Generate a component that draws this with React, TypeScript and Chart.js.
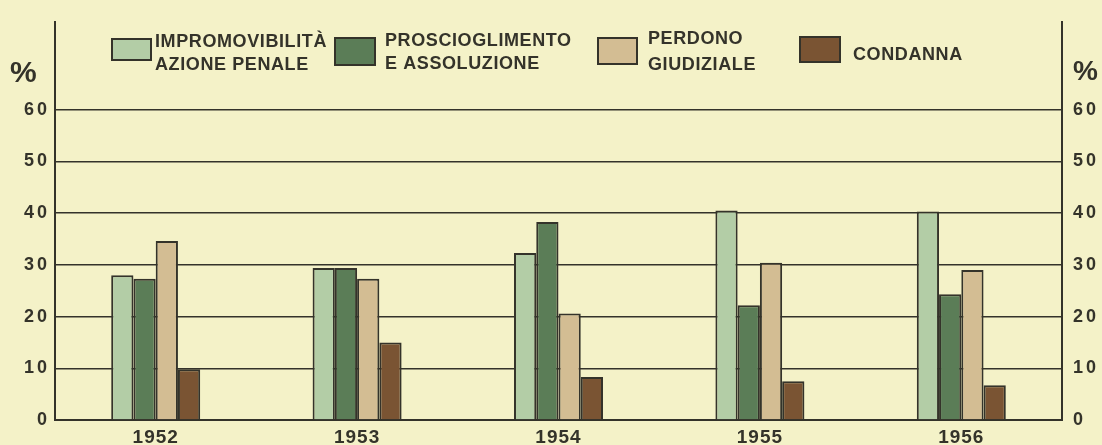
import React, { useEffect, useRef } from 'react';
import { Chart, registerables } from 'chart.js';

Chart.register(...registerables);

// ---- data ----
const years = ['1952', '1953', '1954', '1955', '1956'];
const impromovibilita = [28.0, 29.4, 32.3, 40.5, 40.3];
const proscioglimento = [27.3, 29.4, 38.3, 22.2, 24.3];
const perdono = [34.6, 27.3, 20.6, 30.4, 29.0];
const condanna = [9.8, 15.0, 8.3, 7.5, 6.7];
const yTickValues = [0, 10, 20, 30, 40, 50, 60];
const seriesLabels = [
  ['IMPROMOVIBILITÀ', 'AZIONE PENALE'],
  ['PROSCIOGLIMENTO', 'E ASSOLUZIONE'],
  ['PERDONO', 'GIUDIZIALE'],
  ['CONDANNA'],
];

const BG = '#f4f2c8';
const INK = '#34332a';
const COLORS = ['#b3cda6', '#5b7d57', '#d3bd93', '#7a5433'];
const FONT = '"Liberation Sans", Arial, sans-serif';

const legendLayout = [
  { box: [112, 39, 39, 21], textX: 155, lines: [47, 70] },
  { box: [335, 38, 40, 27], textX: 385, lines: [46, 69] },
  { box: [598, 38, 39, 26], textX: 648, lines: [44, 70] },
  { box: [800, 37, 40, 25], textX: 853, lines: [60] },
];

const decorPlugin = {
  id: 'decor',
  beforeDraw(chart: any) {
    const ctx = chart.ctx;
    ctx.save();
    ctx.fillStyle = BG;
    ctx.fillRect(0, 0, chart.width, chart.height);
    ctx.restore();
    ctx.letterSpacing = '3px';
    const xs = chart.scales.x;
    if (xs && !xs.__patched) {
      const orig = xs.drawLabels.bind(xs);
      xs.drawLabels = (area: any) => {
        ctx.letterSpacing = '1px';
        orig(area);
        ctx.letterSpacing = '3px';
      };
      xs.__patched = true;
    }
  },
  afterDraw(chart: any) {
    const ctx = chart.ctx;
    ctx.save();
    ctx.letterSpacing = '0.6px';
    ctx.textBaseline = 'alphabetic';
    ctx.textAlign = 'left';
    legendLayout.forEach((l, i) => {
      const [x, y, w, h] = l.box;
      ctx.fillStyle = COLORS[i];
      ctx.fillRect(x, y, w, h);
      ctx.strokeStyle = INK;
      ctx.lineWidth = 2;
      ctx.strokeRect(x, y, w, h);
      ctx.fillStyle = INK;
      ctx.font = `bold 18px ${FONT}`;
      seriesLabels[i].forEach((t, j) => ctx.fillText(t, l.textX, l.lines[j]));
    });
    // percent signs
    ctx.letterSpacing = '0px';
    ctx.font = `bold 30px ${FONT}`;
    ctx.fillText('%', 10, 82);
    ctx.font = `bold 28px ${FONT}`;
    ctx.fillText('%', 1073, 80);
    ctx.restore();
  },
};

export default function App() {
  const ref = useRef<HTMLCanvasElement>(null);
  useEffect(() => {
    document.body.style.margin = '0';
    document.body.style.background = BG;
    const mk = (label: string, data: number[], i: number) => ({
      label,
      data,
      backgroundColor: COLORS[i],
      borderColor: INK,
      borderWidth: 2,
      barPercentage: 1,
      categoryPercentage: 0.442,
    });
    const chart = new Chart(ref.current!, {
      type: 'bar',
      data: {
        labels: years,
        datasets: [
          mk(seriesLabels[0].join(' '), impromovibilita, 0),
          mk(seriesLabels[1].join(' '), proscioglimento, 1),
          mk(seriesLabels[2].join(' '), perdono, 2),
          mk(seriesLabels[3].join(' '), condanna, 3),
        ],
      },
      options: {
        responsive: false,
        animation: false,
        devicePixelRatio: 1,
        layout: { padding: { top: 18, left: 0, right: 0, bottom: 0 } },
        plugins: { legend: { display: false }, tooltip: { enabled: false } },
        scales: {
          x: {
            grid: { display: false, drawTicks: false, tickLength: 0 },
            border: { display: true, color: INK, width: 2 },
            ticks: { color: INK, padding: 6, font: { family: FONT, size: 19, weight: 'bold' } },
            afterFit: (s: any) => { s.height = 25; },
          },
          y: {
            position: 'left',
            min: 0,
            max: 77,
            afterBuildTicks: (s: any) => { s.ticks = yTickValues.map((v) => ({ value: v })); },
            grid: { color: INK, lineWidth: 1.5, drawTicks: false, tickLength: 0 },
            border: { display: true, color: INK, width: 2 },
            ticks: { color: INK, padding: 5, font: { family: FONT, size: 18, weight: 'bold' } },
            afterFit: (s: any) => { s.width = 55; },
          },
          y2: {
            position: 'right',
            min: 0,
            max: 77,
            afterBuildTicks: (s: any) => { s.ticks = yTickValues.map((v) => ({ value: v })); },
            grid: { display: false, drawTicks: false, tickLength: 0 },
            border: { display: true, color: INK, width: 2 },
            ticks: { color: INK, padding: 11, font: { family: FONT, size: 18, weight: 'bold' } },
            afterFit: (s: any) => { s.width = 40; },
          },
        },
      } as any,
      plugins: [decorPlugin],
    });
    return () => chart.destroy();
  }, []);
  return (
    <div style={{ position: 'absolute', left: 0, top: 0, width: 1102, height: 445 }}>
      <canvas ref={ref} width={1102} height={445} style={{ width: 1102, height: 445, display: 'block' }} />
    </div>
  );
}
